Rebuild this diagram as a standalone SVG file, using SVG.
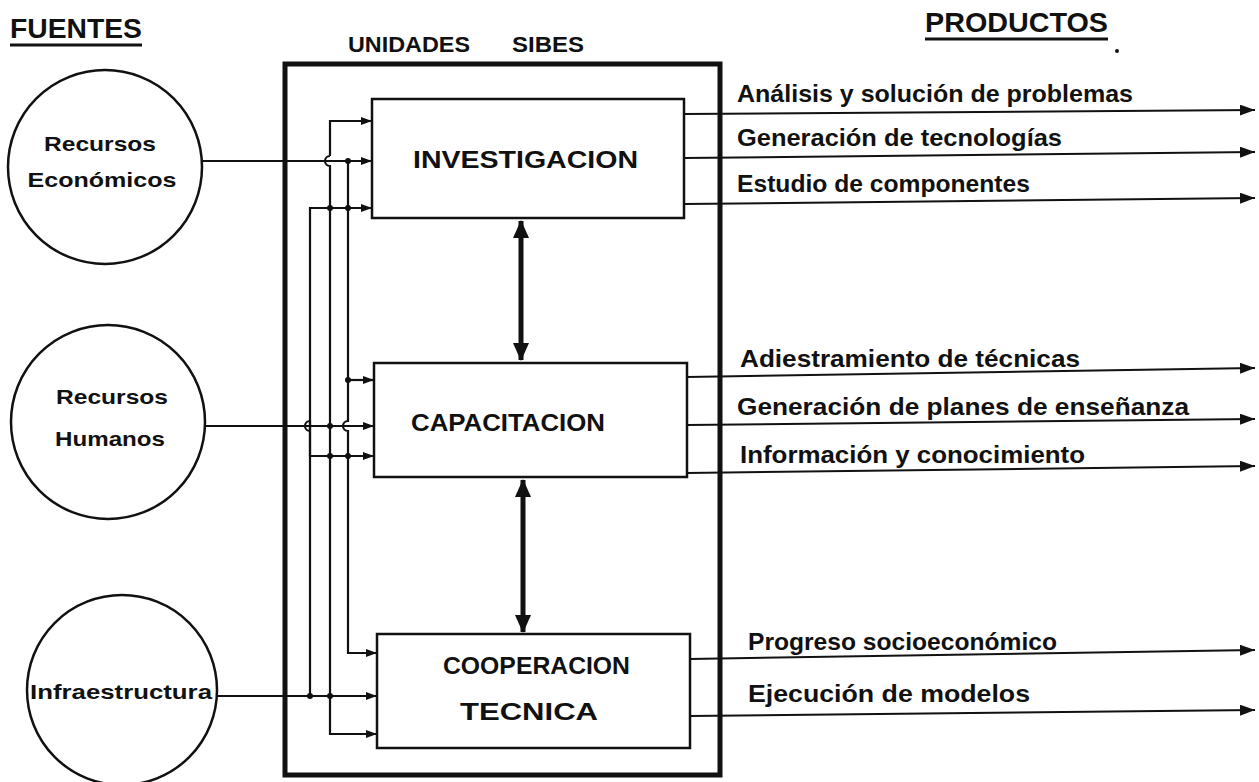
<svg xmlns="http://www.w3.org/2000/svg" width="1259" height="782" viewBox="0 0 1259 782">
<style>
.t{font-family:"Liberation Sans",Arial,sans-serif;fill:#111}
.b{font-weight:bold}
.box{fill:none;stroke:#111;stroke-width:2.5}
.c{fill:none;stroke:#111;stroke-width:2.5}
.w{fill:none;stroke:#111;stroke-width:2.2}
.o{fill:none;stroke:#111;stroke-width:2}
.d{fill:#111}
</style>
<defs>
<marker id="ah" markerUnits="userSpaceOnUse" markerWidth="11" markerHeight="8" refX="11" refY="4" orient="auto"><path d="M0,0 L11,4 L0,8 z" fill="#111"/></marker>
<marker id="ao" markerUnits="userSpaceOnUse" markerWidth="15" markerHeight="11" refX="15" refY="5.5" orient="auto"><path d="M0,0 L15,5.5 L0,11 z" fill="#111"/></marker>
<marker id="ab" markerUnits="userSpaceOnUse" markerWidth="18" markerHeight="16" refX="17" refY="8" orient="auto-start-reverse"><path d="M0,0 L18,8 L0,16 z" fill="#111"/></marker>
</defs>
<rect width="1259" height="782" fill="#fff"/>

<g id="titles">
<text class="t b" x="10" y="38" font-size="28" textLength="132" lengthAdjust="spacingAndGlyphs">FUENTES</text>
<line x1="10" y1="45" x2="142" y2="45" stroke="#111" stroke-width="3"/>
<text class="t b" x="348" y="52" font-size="22" textLength="122" lengthAdjust="spacingAndGlyphs">UNIDADES</text>
<text class="t b" x="512" y="52" font-size="22" textLength="72" lengthAdjust="spacingAndGlyphs">SIBES</text>
<text class="t b" x="925" y="32" font-size="28" textLength="183" lengthAdjust="spacingAndGlyphs">PRODUCTOS</text>
<line x1="925" y1="39" x2="1108" y2="39" stroke="#111" stroke-width="3"/>
<circle cx="1117" cy="51" r="2" fill="#111"/>
</g>

<g id="outer">
<rect x="285" y="64" width="435" height="711" fill="none" stroke="#111" stroke-width="5"/>
</g>

<g id="src-economicos">
<circle cx="105" cy="167" r="97" class="c"/>
<text class="t b" x="100" y="151" font-size="21" text-anchor="middle" textLength="112" lengthAdjust="spacingAndGlyphs">Recursos</text>
<text class="t b" x="102" y="187" font-size="21" text-anchor="middle" textLength="149" lengthAdjust="spacingAndGlyphs">Económicos</text>
</g>
<g id="src-humanos">
<circle cx="108" cy="422" r="97" class="c"/>
<text class="t b" x="112" y="404" font-size="21" text-anchor="middle" textLength="112" lengthAdjust="spacingAndGlyphs">Recursos</text>
<text class="t b" x="110" y="446" font-size="21" text-anchor="middle" textLength="110" lengthAdjust="spacingAndGlyphs">Humanos</text>
</g>
<g id="src-infra">
<circle cx="122" cy="690" r="95" class="c"/>
<text class="t b" x="30" y="699" font-size="21" textLength="182" lengthAdjust="spacingAndGlyphs">Infraestructura</text>
</g>

<g id="n-investigacion">
<rect x="372" y="99" width="312" height="119" class="box"/>
<text class="t b" x="413" y="168" font-size="24" textLength="225" lengthAdjust="spacingAndGlyphs">INVESTIGACION</text>
</g>
<g id="n-capacitacion">
<rect x="374" y="363" width="313" height="114" class="box"/>
<text class="t b" x="411" y="431" font-size="23" textLength="194" lengthAdjust="spacingAndGlyphs">CAPACITACION</text>
</g>
<g id="n-cooperacion">
<rect x="377" y="634" width="313" height="114" class="box"/>
<text class="t b" x="443" y="674" font-size="23" textLength="187" lengthAdjust="spacingAndGlyphs">COOPERACION</text>
<text class="t b" x="460" y="720" font-size="24" textLength="138" lengthAdjust="spacingAndGlyphs">TECNICA</text>
</g>

<g id="products">
<text class="t b" x="737" y="102" font-size="24" textLength="396" lengthAdjust="spacingAndGlyphs">Análisis y solución de problemas</text>
<text class="t b" x="737" y="146" font-size="24" textLength="325" lengthAdjust="spacingAndGlyphs">Generación de tecnologías</text>
<text class="t b" x="737" y="192" font-size="24" textLength="293" lengthAdjust="spacingAndGlyphs">Estudio de componentes</text>
<text class="t b" x="740" y="367" font-size="24" textLength="340" lengthAdjust="spacingAndGlyphs">Adiestramiento de técnicas</text>
<text class="t b" x="737" y="415" font-size="24" textLength="452" lengthAdjust="spacingAndGlyphs">Generación de planes de enseñanza</text>
<text class="t b" x="740" y="463" font-size="24" textLength="345" lengthAdjust="spacingAndGlyphs">Información y conocimiento</text>
<text class="t b" x="748" y="650" font-size="24" textLength="309" lengthAdjust="spacingAndGlyphs">Progreso socioeconómico</text>
<text class="t b" x="748" y="702" font-size="24" textLength="282" lengthAdjust="spacingAndGlyphs">Ejecución de modelos</text>
</g>

<g id="connectors">
<line x1="202" y1="161" x2="372" y2="161" class="w" marker-end="url(#ah)"/>
<line x1="205" y1="426" x2="374" y2="426" class="w" marker-end="url(#ah)"/>
<line x1="217" y1="696" x2="377" y2="696" class="w" marker-end="url(#ah)"/>
<path d="M310,456 V208 H372" class="w" marker-end="url(#ah)"/>
<path d="M310,456 V421 a5,5 0 0 0 0,10 V456 V696" class="w"/>
<path d="M330,156 V121 H372" class="w" marker-end="url(#ah)"/>
<path d="M330,156 a5,5 0 0 0 0,10 V734 H377" class="w" marker-end="url(#ah)"/>
<path d="M348,380 H374" class="w" marker-end="url(#ah)"/>
<path d="M348,161 V421 a5,5 0 0 0 0,10 V653 H377" class="w" marker-end="url(#ah)"/>
<path d="M310,456 H374" class="w" marker-end="url(#ah)"/>
<circle class="d" cx="348" cy="161" r="3"/>
<circle class="d" cx="330" cy="208" r="3"/>
<circle class="d" cx="348" cy="208" r="3"/>
<circle class="d" cx="348" cy="380" r="3"/>
<circle class="d" cx="330" cy="426" r="3"/>
<circle class="d" cx="330" cy="456" r="3"/>
<circle class="d" cx="348" cy="456" r="3"/>
<circle class="d" cx="310" cy="696" r="3"/>
<circle class="d" cx="330" cy="696" r="3"/>
<line x1="521" y1="221" x2="521" y2="360" stroke="#111" stroke-width="5" marker-start="url(#ab)" marker-end="url(#ab)"/>
<line x1="523" y1="480" x2="523" y2="632" stroke="#111" stroke-width="5" marker-start="url(#ab)" marker-end="url(#ab)"/>
<line x1="684" y1="114" x2="1255" y2="110" class="o" marker-end="url(#ao)"/>
<line x1="684" y1="158" x2="1255" y2="152" class="o" marker-end="url(#ao)"/>
<line x1="684" y1="204" x2="1255" y2="198" class="o" marker-end="url(#ao)"/>
<line x1="687" y1="377" x2="1255" y2="368" class="o" marker-end="url(#ao)"/>
<line x1="687" y1="425" x2="1255" y2="419" class="o" marker-end="url(#ao)"/>
<line x1="687" y1="473" x2="1255" y2="466" class="o" marker-end="url(#ao)"/>
<line x1="690" y1="659" x2="1255" y2="650" class="o" marker-end="url(#ao)"/>
<line x1="690" y1="716" x2="1255" y2="710" class="o" marker-end="url(#ao)"/>
</g>
</svg>
